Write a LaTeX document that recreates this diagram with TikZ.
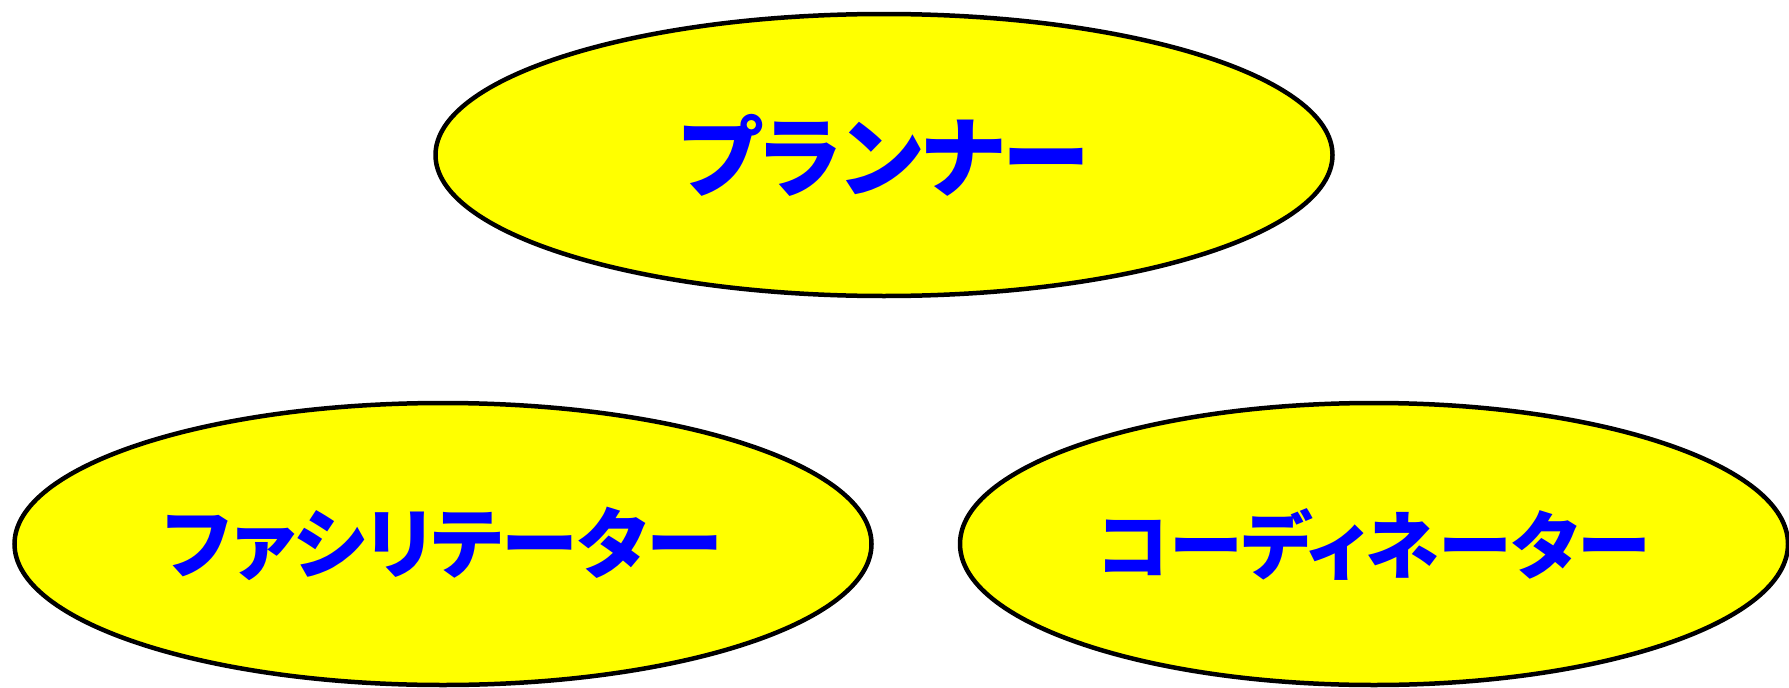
\documentclass[tikz,border=0pt]{standalone}
\usepackage{fontspec}
\newfontfamily\jpfont[RawFeature=+palt]{Noto Sans CJK JP}
\usepackage{xcolor}
\usepackage{tikz}
\usetikzlibrary{positioning,shapes.geometric}
\definecolor{roleblue}{RGB}{0,0,255}
\definecolor{roleyellow}{RGB}{255,255,0}

\begin{document}
\begin{tikzpicture}[
  x=1pt, y=-1pt,
  node distance=84pt,
  role/.style={ellipse, draw, line width=4.5pt, fill=roleyellow,
    text=roleblue, inner sep=0pt, minimum height=282pt},
  rolefont/.style={font=\jpfont\bfseries\fontsize{#1}{#1}\selectfont}
]
\useasboundingbox (0,0) rectangle (1789,688);
\node[role, rolefont=88, minimum width=897pt] (plan) at (884,155) {プランナー};
\node[role, rolefont=77, minimum width=857pt] (fac) at (443,544) {ファシリテーター};
\node[role, rolefont=74, minimum width=828pt, right=of fac] (coord) {コーディネーター};
\end{tikzpicture}
\end{document}
